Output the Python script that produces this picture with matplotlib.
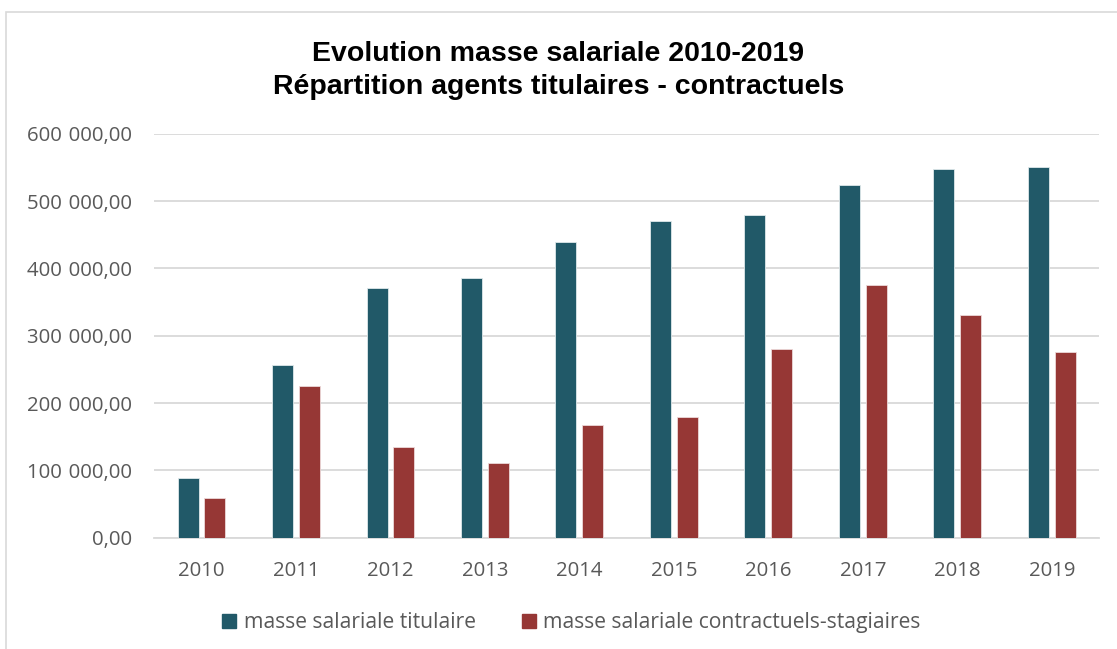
"""
Evolution masse salariale 2010-2019 : titulaires vs contractuels-stagiaires
"""

import numpy as np
import matplotlib
matplotlib.use("Agg")
import matplotlib.pyplot as plt
import matplotlib.patches as mpatches
from matplotlib.ticker import FuncFormatter

# Data
years = ['2010', '2011', '2012', '2013', '2014', '2015', '2016', '2017', '2018', '2019']
titulaire = [88700, 256500, 371300, 386200, 438700, 469900, 479300, 523400, 547100, 550100]
contractuels = [58500, 225300, 134700, 111000, 167400, 179300, 279800, 375300, 330800, 275800]

label_tit = 'masse salariale titulaire'
label_con = 'masse salariale contractuels-stagiaires'

colors = {
    'tit': '#215968',
    'con': '#963735',
}
text_grey = '#595959'
grid_grey = '#D9D9D9'

plt.rcParams['font.family'] = ['Open Sans', 'DejaVu Sans']

fig = plt.figure(figsize=(11.17, 6.49), dpi=100)
ax = fig.add_axes([0.1381, 0.1715, 0.8458, 0.6225])

x = np.arange(len(years))
w = 0.222
off = 0.142
ax.bar(x - off, titulaire, width=w, color=colors['tit'], edgecolor='#dfe8ea',
       linewidth=0.6, label=label_tit, zorder=3)
ax.bar(x + off, contractuels, width=w, color=colors['con'], edgecolor='#ecd9d9',
       linewidth=0.6, label=label_con, zorder=3)

ax.set_xlim(-0.5, len(years) - 0.5)
ax.set_ylim(0, 600000)
ax.set_yticks(range(0, 600001, 100000))
# French number format, slightly wider thousands separator like the original
ax.yaxis.set_major_formatter(FuncFormatter(
    lambda v, p: f"{v:,.2f}".replace(',', '\u2004').replace('.', ',')))
ax.set_xticks(x)
ax.set_xticklabels(years)

ax.grid(axis='y', color=grid_grey, linewidth=1.3, zorder=0)
for s in ['top', 'right', 'left']:
    ax.spines[s].set_visible(False)
ax.spines['bottom'].set_color(grid_grey)
ax.spines['bottom'].set_linewidth(1.3)
ax.tick_params(axis='both', length=0, labelsize=14.7, colors=text_grey)
ax.tick_params(axis='x', pad=17)
ax.tick_params(axis='y', pad=16)

# Titles
fig.text(0.5, 1 - 60.7 / 649, 'Evolution masse salariale 2010-2019', ha='center',
         va='baseline', fontsize=20.5, fontweight='bold', family='Liberation Sans')
fig.text(0.5, 1 - 93.5 / 649, 'Répartition agents titulaires - contractuels', ha='center',
         va='baseline', fontsize=20.5, fontweight='bold', family='Liberation Sans')

# Legend
handles = [mpatches.Patch(color=colors['tit'], label=label_tit),
           mpatches.Patch(color=colors['con'], label=label_con)]
fig.legend(handles=handles, loc='center', bbox_to_anchor=(571.5 / 1117, 1 - 622.7 / 649),
           ncol=2, frameon=False, fontsize=15.2, labelcolor=text_grey,
           handlelength=0.65, handleheight=0.65, handletextpad=0.35, columnspacing=2.2)

# Chart frame (light border, cut by the image edges on the right and bottom)
frame = mpatches.Rectangle((6 / 1117, -0.1), 1.2, 1 - 12.3 / 649 + 0.1,
                           transform=fig.transFigure, fill=False,
                           edgecolor=grid_grey, linewidth=1.2)
fig.patches.append(frame)

plt.savefig('out.png', dpi=100, facecolor='white')
